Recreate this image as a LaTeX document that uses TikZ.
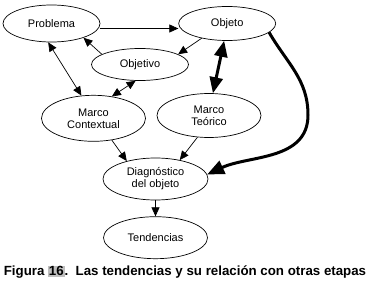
\documentclass[tikz,border=0pt]{standalone}
\usepackage{fontspec}
\setmainfont{Liberation Sans}
\usetikzlibrary{shapes.geometric,positioning,arrows.meta}

\begin{document}
\begin{tikzpicture}[
    x=1bp, y=1bp,
    blob/.style={draw, ellipse, inner sep=0pt, line width=0.7bp, align=center,
        font=\fontsize{11bp}{12bp}\selectfont},
    uni/.style={line width=0.7bp, -{Triangle[length=9bp,width=8bp]}},
    bi/.style={line width=0.7bp, {Triangle[length=9bp,width=8bp]}-{Triangle[length=9bp,width=8bp]}},
    fat/.style={line width=3bp, -{Triangle[length=17bp,width=14bp]}},
    fatbi/.style={line width=3bp, {Triangle[length=16bp,width=13bp]}-{Triangle[length=16bp,width=13bp]}}
]
    \useasboundingbox (0,0) rectangle (369,283);

    \node[blob, minimum width=97bp, minimum height=37bp] (probnode) at (51.5,259.5) {Problema};
    \node[blob, minimum width=97bp, minimum height=34bp, right=78bp of probnode] (objnode) {Objeto};
    \node[blob, minimum width=97bp, minimum height=32bp] (objtvnode) at (140,218.5) {Objetivo};
    \node[blob, minimum width=104bp, minimum height=46bp] (ctxnode) at (93.5,164.7) {Marco\\Contextual};
    \node[blob, minimum width=104bp, minimum height=44bp] (teonode) at (209,167.5) {Marco\\Teórico};
    \node[blob, minimum width=105bp, minimum height=42bp] (diagnode) at (155.5,104) {Diagnóstico\\del objeto};
    \node[blob, minimum width=104bp, minimum height=42bp, below=16bp of diagnode] (tendnode) {Tendencias};

    % Thin links
    \draw ([yshift=-5bp]probnode.east) edge[uni] ([yshift=-5bp]objnode.west);
    \draw (objtvnode.165) edge[uni] (probnode.-24);
    \draw (objnode.-150) edge[uni] (objtvnode.15);
    \draw (probnode.-100) edge[bi] (ctxnode.118);
    \draw (objtvnode.-105) edge[bi] (ctxnode.50);
    \draw (ctxnode.-50) edge[uni] (diagnode.148);
    \draw (teonode.-118) edge[uni] (diagnode.38);
    \draw (diagnode.south) edge[uni] (tendnode.north);

    % Thick links
    \draw (objnode.-100) edge[fatbi] (teonode.80);
    \coordinate (bendpt) at (308,168);
    \draw[fat] (objnode.-12) to[out=-60,in=90] (bendpt) to[out=-90,in=25] (diagnode.5);

    \node[font=\fontsize{13.3bp}{16bp}\selectfont\bfseries] (caption) at (185,11)
        {Figura {\setlength{\fboxsep}{0.8bp}\colorbox{gray!50}{16}}.\ \ Las tendencias y su relación con otras etapas};
\end{tikzpicture}
\end{document}
